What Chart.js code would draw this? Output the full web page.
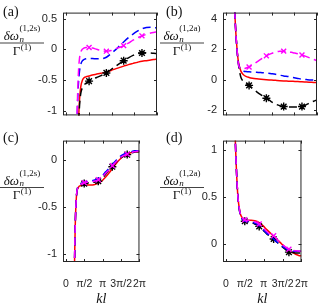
<!DOCTYPE html>
<html>
<head>
<meta charset="utf-8">
<script src="https://cdn.jsdelivr.net/npm/chart.js@4/dist/chart.umd.min.js"></script>
<style>
  body { margin: 0; background: #fff; width: 324px; height: 303px; position: relative; overflow: hidden; }
  canvas { position: absolute; }
</style>
</head>
<body>
<canvas id="ca" width="162" height="128" style="left:0;top:0"></canvas>
<canvas id="cb" width="164" height="128" style="left:160px;top:0"></canvas>
<canvas id="cc" width="162" height="185" style="left:0;top:128px"></canvas>
<canvas id="cd" width="164" height="185" style="left:160px;top:128px"></canvas>
<script>
// kl grid shared by all panels
const kl = [0.50, 0.55, 0.60, 0.65, 0.70, 0.75, 0.80, 0.85, 0.90, 0.95, 1.00, 1.10, 1.20, 1.35, 1.57, 1.80,
            2.10, 2.40, 2.77, 3.10, 3.40, 3.70, 3.97, 4.30, 4.62, 4.95, 5.24, 5.55, 5.85, 6.05, 6.28];
const markKl = [1.57, 2.77, 3.97, 5.24];
const xTicks = [0, Math.PI / 2, Math.PI, 3 * Math.PI / 2, 2 * Math.PI];
const xTickLabels = ['0', 'π/2', 'π', '3π/2', '2π'];

// (a)
const redA = [-9, -7, -5.5, -4.2, -3, -2, -1.4, -1.1, -0.85, -0.7, -0.6, -0.51, -0.47, -0.45, -0.435, -0.42, -0.405, -0.39, -0.37, -0.345, -0.32, -0.295, -0.275, -0.25, -0.23, -0.21, -0.195, -0.185, -0.175, -0.168, -0.162];
const blueA = [-8, -6, -4.5, -3.2, -1.6, -1.05, -0.7, -0.5, -0.37, -0.29, -0.24, -0.19, -0.17, -0.155, -0.15, -0.15, -0.155, -0.155, -0.13, -0.07, -0.01, 0.06, 0.12, 0.19, 0.25, 0.3, 0.335, 0.355, 0.36, 0.355, 0.35];
const magA = [-8, -6, -4.5, -3.2, -1.5, -0.95, -0.55, -0.3, -0.16, -0.08, -0.04, 0.0, 0.02, 0.03, 0.03, 0.02, 0.0, -0.02, -0.03, -0.02, 0.01, 0.035, 0.06, 0.1, 0.15, 0.19, 0.22, 0.245, 0.265, 0.275, 0.285];
const blackA = [-12, -9, -7, -5, -3, -2.2, -1.6, -1.2, -0.95, -0.8, -0.71, -0.63, -0.59, -0.555, -0.52, -0.49, -0.46, -0.43, -0.386, -0.33, -0.28, -0.23, -0.186, -0.14, -0.1, -0.07, -0.06, -0.055, -0.06, -0.065, -0.07];
const yTicksA = [-1, -0.5, 0, 0.5];

// (b)
const redB = [7, 5.2, 4.0, 3.1, 2.45, 1.85, 1.4, 1.08, 0.88, 0.72, 0.58, 0.42, 0.32, 0.23, 0.16, 0.11, 0.07, 0.04, 0.01, -0.01, -0.03, -0.05, -0.065, -0.08, -0.095, -0.11, -0.125, -0.14, -0.155, -0.165, -0.18];
const blueB = [7, 5.2, 4.0, 3.1, 2.4, 1.8, 1.3, 1.0, 0.85, 0.75, 0.68, 0.6, 0.57, 0.55, 0.53, 0.52, 0.5, 0.48, 0.45, 0.41, 0.37, 0.31, 0.26, 0.22, 0.16, 0.1, 0.05, 0.02, 0.0, 0.0, 0.0];
const magB = [7, 5.2, 4.0, 3.1, 2.4, 1.8, 1.25, 0.95, 0.82, 0.76, 0.74, 0.73, 0.74, 0.78, 0.85, 0.98, 1.17, 1.36, 1.58, 1.73, 1.83, 1.88, 1.89, 1.86, 1.79, 1.72, 1.64, 1.53, 1.42, 1.35, 1.26];
const blackB = [7, 5.2, 4.0, 3.1, 2.4, 1.8, 1.25, 0.9, 0.62, 0.37, 0.18, -0.02, -0.13, -0.24, -0.36, -0.55, -0.78, -0.98, -1.2, -1.42, -1.58, -1.69, -1.75, -1.78, -1.78, -1.77, -1.75, -1.62, -1.48, -1.4, -1.32];
const yTicksB = [-2, 0, 2, 4];

// (c)
const redC = [-6, -5, -4, -3, -1.6, -1.05, -0.72, -0.52, -0.4, -0.34, -0.31, -0.285, -0.275, -0.27, -0.265, -0.265, -0.265, -0.262, -0.245, -0.22, -0.18, -0.135, -0.09, -0.035, 0.01, 0.045, 0.065, 0.08, 0.088, 0.09, 0.092];
const blueC = [-6, -5, -4, -3, -1.6, -1.05, -0.72, -0.52, -0.4, -0.33, -0.3, -0.27, -0.26, -0.245, -0.235, -0.23, -0.225, -0.215, -0.195, -0.165, -0.125, -0.085, -0.045, 0.0, 0.04, 0.065, 0.08, 0.09, 0.1, 0.1, 0.1];
const magC = [-6, -5, -4, -3, -1.6, -1.05, -0.72, -0.52, -0.4, -0.33, -0.3, -0.275, -0.265, -0.25, -0.24, -0.235, -0.23, -0.225, -0.21, -0.18, -0.14, -0.1, -0.06, -0.015, 0.025, 0.05, 0.065, 0.08, 0.09, 0.095, 0.1];
const blackC = [-6, -5, -4, -3, -1.6, -1.05, -0.72, -0.52, -0.4, -0.33, -0.3, -0.28, -0.27, -0.26, -0.25, -0.245, -0.24, -0.235, -0.225, -0.195, -0.15, -0.105, -0.07, -0.02, 0.02, 0.045, 0.06, 0.075, 0.085, 0.09, 0.09];
const yTicksC = [-1, -0.5, 0];

// (d)
const redD = [4, 3.2, 2.5, 1.95, 1.55, 1.25, 1.04, 0.87, 0.72, 0.6, 0.5, 0.39, 0.32, 0.28, 0.255, 0.25, 0.25, 0.245, 0.225, 0.19, 0.15, 0.115, 0.08, 0.04, 0.0, -0.04, -0.07, -0.095, -0.115, -0.125, -0.13];
const blueD = [4, 3.2, 2.5, 1.95, 1.55, 1.25, 1.04, 0.87, 0.72, 0.6, 0.5, 0.38, 0.31, 0.265, 0.24, 0.235, 0.23, 0.22, 0.19, 0.15, 0.11, 0.08, 0.05, 0.01, -0.02, -0.05, -0.075, -0.08, -0.08, -0.08, -0.08];
const magD = [4, 3.2, 2.5, 1.95, 1.55, 1.25, 1.04, 0.87, 0.72, 0.6, 0.5, 0.39, 0.32, 0.275, 0.255, 0.25, 0.245, 0.235, 0.21, 0.17, 0.13, 0.1, 0.085, 0.04, 0.0, -0.035, -0.06, -0.07, -0.075, -0.078, -0.08];
const blackD = [4, 3.2, 2.5, 1.95, 1.55, 1.25, 1.04, 0.87, 0.72, 0.6, 0.5, 0.38, 0.31, 0.265, 0.24, 0.23, 0.225, 0.21, 0.185, 0.145, 0.105, 0.075, 0.05, 0.01, -0.025, -0.06, -0.09, -0.095, -0.1, -0.1, -0.1];
const yTicksD = [0, 0.5, 1];

const AXIS = '#262626';
const SANS = '"Liberation Sans", Arial, sans-serif';
const SERIF = '"Liberation Serif", "Times New Roman", serif';

function series(vals, color, dash, marker) {
  return {
    data: kl.map((x, i) => ({ x: x, y: vals[i] })),
    borderColor: color,
    backgroundColor: color,
    borderWidth: 1.5,
    borderDash: dash,
    cubicInterpolationMode: 'monotone',
    clip: 0,
    pointStyle: marker || 'circle',
    pointRadius: ctx => (marker && markKl.includes(kl[ctx.dataIndex])) ? (marker === 'star' ? 4 : 3.5) : 0,
    pointBorderColor: color,
    pointBackgroundColor: color,
    pointBorderWidth: 1.4
  };
}

// box with inward ticks on all four sides
const frame = {
  id: 'frame',
  afterDatasetsDraw(chart) {
    const { ctx, chartArea: { left, right, top, bottom }, scales: { x, y } } = chart;
    ctx.save();
    ctx.strokeStyle = AXIS;
    ctx.lineWidth = 1;
    ctx.strokeRect(left + 0.5, top + 0.5, right - left - 1, bottom - top - 1);
    ctx.beginPath();
    x.ticks.forEach(t => {
      const px = Math.round(x.getPixelForValue(t.value)) + 0.5;
      ctx.moveTo(px, bottom); ctx.lineTo(px, bottom - 3);
      ctx.moveTo(px, top); ctx.lineTo(px, top + 3);
    });
    y.ticks.forEach(t => {
      const py = Math.round(y.getPixelForValue(t.value)) + 0.5;
      ctx.moveTo(left, py); ctx.lineTo(left + 3, py);
      ctx.moveTo(right, py); ctx.lineTo(right - 3, py);
    });
    ctx.stroke();
    ctx.restore();
  }
};

// panel letter and the fraction used as y label
const labels = {
  id: 'labels',
  afterDraw(chart, args, o) {
    const ctx = chart.ctx;
    ctx.save();
    ctx.fillStyle = '#111';
    ctx.textAlign = 'left';
    ctx.textBaseline = 'alphabetic';
    ctx.font = '14px ' + SERIF;
    ctx.fillText(o.letter, o.lx, o.ly);

    const barY = o.barY, x0 = 0, x1 = 44, cx = (x0 + x1) / 2;
    ctx.font = 'italic 13px ' + SERIF;
    const wD = ctx.measureText('δω').width;
    ctx.font = 'italic 9px ' + SERIF;
    const wn = ctx.measureText('n').width;
    ctx.font = '9px ' + SERIF;
    const supText = '(' + o.sup + ')';
    const ws = ctx.measureText(supText).width;
    const numW = wD + 0.5 + Math.max(wn, ws);
    let nx = cx - numW / 2;
    ctx.font = 'italic 13px ' + SERIF;
    ctx.fillText('δω', nx, barY - 2.5);
    ctx.font = 'italic 9px ' + SERIF;
    ctx.fillText('n', nx + wD + 0.5, barY - 1);
    ctx.font = '9px ' + SERIF;
    ctx.fillText(supText, nx + wD + 0.5, barY - 11.5);

    ctx.font = '13px ' + SERIF;
    const wG = ctx.measureText('Γ').width;
    ctx.font = '9px ' + SERIF;
    const w1 = ctx.measureText('(1)').width;
    const dx = cx - (wG + 0.5 + w1) / 2;
    ctx.font = '13px ' + SERIF;
    ctx.fillText('Γ', dx, barY + 12.3);
    ctx.font = '9px ' + SERIF;
    ctx.fillText('(1)', dx + wG + 0.5, barY + 7.3);

    ctx.strokeStyle = '#111';
    ctx.lineWidth = 0.8;
    ctx.beginPath();
    ctx.moveTo(x0, barY + 0.5);
    ctx.lineTo(x1, barY + 0.5);
    ctx.stroke();
    ctx.restore();
  }
};

function panel(id, p) {
  new Chart(document.getElementById(id), {
    type: 'line',
    data: {
      datasets: [
        series(p.mag, '#ff00ff', [8, 4.5], 'crossRot'),
        series(p.blue, '#0000ff', [8, 4.5], null),
        series(p.black, '#000000', [8, 4.5], 'star'),
        series(p.red, '#ff0000', [], null)
      ]
    },
    options: {
      responsive: false,
      animation: false,
      events: [],
      layout: { padding: { left: 0, top: p.top, right: p.right, bottom: 0 } },
      plugins: {
        legend: { display: false },
        tooltip: { enabled: false },
        labels: p.labels
      },
      scales: {
        x: {
          type: 'linear',
          min: -0.24,
          max: 2 * Math.PI,
          afterBuildTicks: s => { s.ticks = xTicks.map(v => ({ value: v })); },
          afterFit: s => { s.height = p.xh; },
          grid: { display: false, drawTicks: false },
          border: { display: false },
          ticks: {
            display: p.showX,
            autoSkip: false,
            maxRotation: 0,
            padding: 16,
            color: AXIS,
            font: { family: SANS, size: 10.5 },
            callback: (v, i) => xTickLabels[i]
          },
          title: {
            display: p.showX,
            text: 'kl',
            color: '#111',
            padding: { top: 0, bottom: 5 },
            font: { family: SERIF, size: 14, style: 'italic' }
          }
        },
        y: {
          min: p.ymin,
          max: p.ymax,
          afterBuildTicks: s => { s.ticks = p.yTicks.map(v => ({ value: v })); },
          afterFit: s => { s.width = 63; },
          grid: { display: false, drawTicks: false },
          border: { display: false },
          ticks: {
            padding: 6,
            color: AXIS,
            font: { family: SANS, size: 11 },
            callback: v => String(v)
          }
        }
      }
    },
    plugins: [frame, labels]
  });
}

panel('ca', { red: redA, blue: blueA, mag: magA, black: blackA, yTicks: yTicksA, ymin: -1.08, ymax: 0.6,
  top: 4, right: 5, xh: 1, showX: false,
  labels: { letter: '(a)', lx: 3, ly: 16, barY: 42.5, sup: '1,2s' } });
panel('cb', { red: redB, blue: blueB, mag: magB, black: blackB, yTicks: yTicksB, ymin: -2.33, ymax: 4.42,
  top: 4, right: 7, xh: 1, showX: false,
  labels: { letter: '(b)', lx: 6, ly: 16, barY: 42.5, sup: '1,2a' } });
panel('cc', { red: redC, blue: blueC, mag: magC, black: blackC, yTicks: yTicksC, ymin: -1.09, ymax: 0.21,
  top: 8, right: 5, xh: 51, showX: true,
  labels: { letter: '(c)', lx: 3, ly: 13.5, barY: 59, sup: '1,2s' } });
panel('cd', { red: redD, blue: blueD, mag: magD, black: blackD, yTicks: yTicksD, ymin: -0.195, ymax: 1.1,
  top: 8, right: 7, xh: 51, showX: true,
  labels: { letter: '(d)', lx: 6, ly: 13.5, barY: 59, sup: '1,2a' } });
</script>
</body>
</html>
